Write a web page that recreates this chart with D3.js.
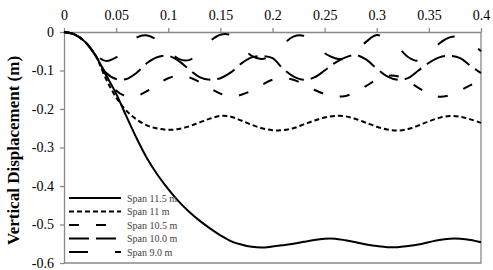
<!DOCTYPE html>
<html>
<head>
<meta charset="utf-8">
<script src="https://cdn.jsdelivr.net/npm/d3@7"></script>
<style>
  body { margin: 0; background: #fff; }
  text { font-family: "Liberation Serif", "Times New Roman", serif; }
</style>
</head>
<body>
<script>
// time (s) on top axis, displacement (m) on left axis
var xs = [0, 0.01, 0.02, 0.03, 0.04, 0.05, 0.06, 0.07, 0.08, 0.09,
          0.1, 0.11, 0.12, 0.13, 0.14, 0.15, 0.16, 0.17, 0.18, 0.19,
          0.2, 0.21, 0.22, 0.23, 0.24, 0.25, 0.26, 0.27, 0.28, 0.29,
          0.3, 0.31, 0.32, 0.33, 0.34, 0.35, 0.36, 0.37, 0.38, 0.39, 0.4];

var span115 = [0, -0.006, -0.025, -0.06, -0.11, -0.16, -0.22, -0.278, -0.33, -0.372,
               -0.408, -0.44, -0.467, -0.49, -0.51, -0.528, -0.543, -0.552, -0.558, -0.56,
               -0.557, -0.554, -0.55, -0.545, -0.54, -0.537, -0.537, -0.541, -0.546, -0.552,
               -0.556, -0.559, -0.559, -0.556, -0.552, -0.546, -0.54, -0.537, -0.537, -0.54, -0.546];

var span11 = [0, -0.006, -0.025, -0.06, -0.12, -0.17, -0.205, -0.228, -0.243, -0.251,
              -0.254, -0.252, -0.245, -0.235, -0.225, -0.218, -0.22, -0.23, -0.241, -0.25,
              -0.255, -0.255, -0.25, -0.24, -0.23, -0.222, -0.218, -0.219, -0.226, -0.236,
              -0.246, -0.253, -0.256, -0.252, -0.243, -0.232, -0.223, -0.218, -0.22, -0.227, -0.236];

var span105 = [0, -0.006, -0.025, -0.06, -0.11, -0.152, -0.167, -0.166, -0.153, -0.135,
               -0.12, -0.114, -0.118, -0.13, -0.146, -0.16, -0.168, -0.163, -0.152, -0.137,
               -0.124, -0.12, -0.124, -0.136, -0.15, -0.161, -0.167, -0.166, -0.156, -0.14,
               -0.124, -0.114, -0.115, -0.128, -0.145, -0.16, -0.168, -0.164, -0.152, -0.138, -0.128];

var span100 = [0, -0.006, -0.025, -0.06, -0.105, -0.122, -0.122, -0.105, -0.08, -0.065,
               -0.062, -0.075, -0.097, -0.117, -0.124, -0.12, -0.105, -0.082, -0.066, -0.063,
               -0.068, -0.095, -0.115, -0.124, -0.118, -0.1, -0.08, -0.066, -0.06, -0.072,
               -0.095, -0.115, -0.124, -0.12, -0.1, -0.08, -0.066, -0.062, -0.068, -0.088, -0.107];

var span90 = [0, -0.006, -0.025, -0.058, -0.075, -0.066, -0.042, -0.014, -0.009, -0.022,
              -0.047, -0.07, -0.073, -0.052, -0.024, -0.007, -0.008, -0.035, -0.062, -0.07,
              -0.058, -0.033, -0.012, -0.01, -0.03, -0.055, -0.068, -0.07, -0.052, -0.025,
              -0.008, -0.018, -0.038, -0.065, -0.075, -0.062, -0.03, -0.014, -0.013, -0.028, -0.05];

var seriesNames = ["Span 11.5 m", "Span 11 m", "Span 10.5 m", "Span 10.0 m", "Span 9.0 m"];
var seriesValues = [span115, span11, span105, span100, span90];
var seriesDash = ["none", "5,3", "10,17", "20,7", "19,27"];

var xTicks = [0, 0.05, 0.1, 0.15, 0.2, 0.25, 0.3, 0.35, 0.4];
var yTicks = [0, -0.1, -0.2, -0.3, -0.4, -0.5, -0.6];

var outerWidth = 493, outerHeight = 270;
var plotLeft = 64, plotRight = 481, plotTop = 32, plotBottom = 263;
var axisColor = "#898989";

var svg = d3.select("body").append("svg")
    .attr("width", outerWidth)
    .attr("height", outerHeight);

var x = d3.scaleLinear().domain([0, 0.4]).range([plotLeft, plotRight]);
var y = d3.scaleLinear().domain([0, -0.6]).range([plotTop, plotBottom]);

// plot frame (right and bottom edges)
svg.append("path")
    .attr("d", "M" + plotRight + "," + plotTop + "V" + plotBottom + "H" + plotLeft)
    .attr("fill", "none")
    .attr("stroke", axisColor)
    .attr("stroke-width", 1.3);

var xAxis = svg.append("g")
    .attr("transform", "translate(0," + plotTop + ")")
    .call(d3.axisTop(x).tickValues(xTicks).tickSize(4).tickSizeOuter(0)
          .tickFormat(function(d) { return String(+d.toFixed(2)); }));
var yAxis = svg.append("g")
    .attr("transform", "translate(" + plotLeft + ",0)")
    .call(d3.axisLeft(y).tickValues(yTicks).tickSize(4).tickSizeOuter(0)
          .tickFormat(function(d) { return d === 0 ? "0" : "-" + Math.abs(d).toFixed(1); }));

[xAxis, yAxis].forEach(function(g) {
  g.select(".domain").attr("stroke", axisColor).attr("stroke-width", 1.3);
  g.selectAll(".tick line").attr("stroke", axisColor).attr("stroke-width", 1.3);
  g.selectAll(".tick text")
      .attr("fill", "#000")
      .style("font-size", "14px")
      .style("font-family", "'Liberation Serif', serif");
});
xAxis.selectAll(".tick text").attr("y", -12);
yAxis.selectAll(".tick text").attr("x", -10);

svg.append("text")
    .attr("transform", "translate(19," + ((plotTop + plotBottom) / 2 + 3) + ") rotate(-90)")
    .attr("text-anchor", "middle")
    .style("font-size", "17px")
    .style("font-weight", "bold")
    .text("Vertical Displacement (m)");

var line = d3.line()
    .x(function(d, i) { return x(xs[i]); })
    .y(function(d) { return y(d); })
    .curve(d3.curveCatmullRom.alpha(0.5));

svg.selectAll(".series")
    .data(seriesValues)
    .enter()
    .append("path")
    .attr("class", "series")
    .attr("d", line)
    .attr("fill", "none")
    .attr("stroke", "#000")
    .attr("stroke-width", 2)
    .attr("stroke-dasharray", function(d, i) { return seriesDash[i]; });

// legend
var legend = svg.append("g").attr("transform", "translate(69,198)");
var rows = legend.selectAll("g")
    .data(seriesNames)
    .enter()
    .append("g")
    .attr("transform", function(d, i) { return "translate(0," + (i * 13.5) + ")"; });
rows.append("line")
    .attr("x1", 0).attr("x2", 52)
    .attr("stroke", "#000")
    .attr("stroke-width", 2)
    .attr("stroke-dasharray", function(d, i) { return seriesDash[i]; });
rows.append("text")
    .attr("x", 58)
    .attr("dy", "0.35em")
    .attr("fill", "#404040")
    .style("font-size", "10px")
    .text(function(d) { return d; });
</script>
</body>
</html>
